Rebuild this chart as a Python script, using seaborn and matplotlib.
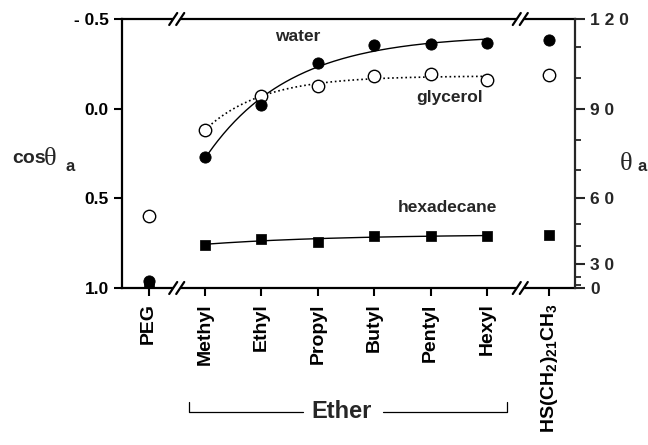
import numpy as np
import matplotlib
matplotlib.use("Agg")
import matplotlib.pyplot as plt
import seaborn as sns
import pandas as pd
from matplotlib.patches import Polygon

sns.set_style("ticks")
plt.rcParams['font.family'] = ['Liberation Sans', 'DejaVu Sans']
plt.rcParams['mathtext.fontset'] = 'custom'
plt.rcParams['mathtext.rm'] = 'Liberation Sans:bold'
plt.rcParams['mathtext.bf'] = 'Liberation Sans:bold'
plt.rcParams['mathtext.it'] = 'Liberation Sans:bold'
plt.rcParams['mathtext.default'] = 'bf'

# ---- data ----
categories = ["PEG", "Methyl", "Ethyl", "Propyl", "Butyl", "Pentyl", "Hexyl",
              r"HS(CH$_2$)$_{21}$CH$_3$"]
cat_pos = [0, 1, 2, 3, 4, 5, 6, 7.1]
water_cos = [0.96, 0.267, -0.021, -0.257, -0.355, -0.359, -0.365, -0.383]
glycerol_cos = [0.597, 0.118, -0.071, -0.128, -0.183, -0.192, -0.160, -0.188]
hexadecane_cos = [0.995, 0.759, 0.725, 0.742, 0.709, 0.709, 0.709, 0.703]
theta_ticks = [0, 30, 60, 90, 120]
theta_minor = [10, 20, 40, 50, 70, 80, 100, 110]
left_ticks = [-0.5, 0.0, 0.5, 1.0]
left_labels = ["- 0.5", "0.0", "0.5", "1.0"]

W, H = 648, 445
fig = plt.figure(figsize=(W / 100, H / 100), dpi=100)
ax = fig.add_axes([122 / W, 1 - 288 / H, (575 - 122) / W, (288 - 19) / H])

xlim = (-0.47, 7.56)
ylim = (1.0, -0.5)


def sat_fit(x, y):
    x = np.asarray(x, float)
    y = np.asarray(y, float)
    best = None
    for k in np.linspace(0.05, 6, 600):
        A = np.column_stack([np.ones_like(x), np.exp(-k * (x - x[0]))])
        coef = np.linalg.lstsq(A, y, rcond=None)[0]
        err = np.sum((A @ coef - y) ** 2)
        if best is None or err < best[0]:
            best = (err, k, coef)
    _, k, coef = best
    xs = np.linspace(x[0], x[-1], 200)
    return xs, coef[0] + coef[1] * np.exp(-k * (xs - x[0]))


ether_x = cat_pos[1:7]
series = [("water", water_cos, "-", 1.0),
          ("glycerol", glycerol_cos, ":", 1.2),
          ("hexadecane", hexadecane_cos, "-", 1.0)]
for name, vals, ls, lw in series:
    xs, ys = sat_fit(ether_x, vals[1:7])
    sns.lineplot(x=xs, y=ys, ax=ax, color="black", linestyle=ls, lw=lw, zorder=2)

df = pd.DataFrame({"x": cat_pos * 3,
                   "y": water_cos + glycerol_cos + hexadecane_cos,
                   "liquid": ["water"] * 8 + ["glycerol"] * 8 + ["hexadecane"] * 8})
sns.scatterplot(data=df[df.liquid == "glycerol"], x="x", y="y", ax=ax, marker="o",
                s=80, facecolor="white", edgecolor="black", linewidth=1.0, zorder=3)
sns.scatterplot(data=df[df.liquid == "water"], x="x", y="y", ax=ax, marker="o",
                s=65, color="black", edgecolor="black", zorder=4)
sns.scatterplot(data=df[df.liquid == "hexadecane"], x="x", y="y", ax=ax, marker="s",
                s=42, color="black", edgecolor="black", zorder=5)

ax.set_xlim(*xlim)
ax.set_ylim(*ylim)
ax.set_xlabel("")
ax.set_ylabel("")
ax.set_xticks(cat_pos)
ax.set_xticklabels(categories, rotation=90, fontsize=14, fontweight="bold")
ax.set_yticks(left_ticks)
ax.set_yticklabels(left_labels, fontsize=12.5, fontweight="bold")
ax.tick_params(axis="both", direction="out", length=6, width=1.5, colors="black")
ax.tick_params(axis="x", pad=5)
for s in ["left", "bottom", "top", "right"]:
    ax.spines[s].set_linewidth(1.6)
    ax.spines[s].set_color("black")
ax.spines["right"].set_visible(False)

ax2 = ax.twinx()
ax2.set_ylim(*ylim)
ax2.set_yticks(np.cos(np.radians(theta_ticks)))
ax2.set_yticklabels([" ".join(list(str(t))) for t in theta_ticks],
                    fontsize=12.5, fontweight="bold")
ax2.set_yticks(np.cos(np.radians(theta_minor)), minor=True)
ax2.tick_params(axis="y", which="major", direction="out", length=7, width=1.5, pad=4)
ax2.tick_params(axis="y", which="minor", direction="out", length=4, width=1.3)
for s in ["left", "bottom", "top"]:
    ax2.spines[s].set_visible(False)
ax2.spines["right"].set_linewidth(1.6)

# axis breaks
axw, axh = 575 - 122, 288 - 19
for xb in [0.5, 6.59]:
    fx = (xb - xlim[0]) / (xlim[1] - xlim[0])
    for fy in [0.0, 1.0]:
        dx, dy, gap = 4 / axw, 6 / axh, 7 / axw
        poly = Polygon([(fx - gap / 2 - dx, fy - dy), (fx + gap / 2 - dx, fy - dy),
                        (fx + gap / 2 + dx, fy + dy), (fx - gap / 2 + dx, fy + dy)],
                       closed=True, transform=ax.transAxes, facecolor="white",
                       edgecolor="none", clip_on=False, zorder=10)
        ax.add_patch(poly)
        for off in [-gap / 2, gap / 2]:
            ax.plot([fx + off - dx, fx + off + dx], [fy - dy, fy + dy], color="black",
                    lw=1.6, transform=ax.transAxes, clip_on=False, zorder=11)

# labels inside plot
ax.text(2.65, -0.40, "water", fontsize=12.5, fontweight="bold", ha="center", va="center")
ax.text(5.33, -0.06, "glycerol", fontsize=12.5, fontweight="bold", ha="center", va="center")
ax.text(5.29, 0.553, "hexadecane", fontsize=12.5, fontweight="bold", ha="center", va="center")

# y axis labels
fig.text(12 / W, 1 - 163 / H, "cos", fontsize=14, fontweight="bold", ha="left", va="baseline")
fig.text(44 / W, 1 - 165 / H, "θ", fontsize=19, family="Liberation Serif", ha="left", va="baseline")
fig.text(66 / W, 1 - 171 / H, "a", fontsize=12, fontweight="bold", ha="left", va="baseline")
fig.text(620 / W, 1 - 170 / H, "θ", fontsize=19, family="Liberation Serif", ha="left", va="baseline")
fig.text(637 / W, 1 - 171 / H, "a", fontsize=12, fontweight="bold", ha="left", va="baseline")

# Ether bracket
by, bt = 1 - 412 / H, 1 - 402 / H
fig.add_artist(plt.Line2D([189 / W, 189 / W, 303 / W], [bt, by, by], color="black", lw=0.9))
fig.add_artist(plt.Line2D([383 / W, 507 / W, 507 / W], [by, by, bt], color="black", lw=0.9))
fig.text(342 / W, by, "Ether", fontsize=17, fontweight="bold", ha="center", va="center")

fig.savefig("out.png", dpi=100)
